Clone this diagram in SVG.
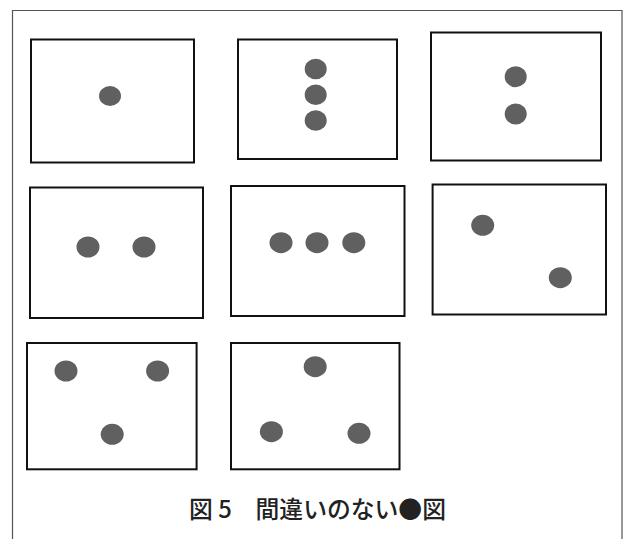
<svg xmlns="http://www.w3.org/2000/svg" width="624" height="539" viewBox="0 0 624 539">
<style>
.box{fill:#fff;stroke:#111;stroke-width:2}
.dot{fill:#606060}
.frame{fill:none;stroke:#555;stroke-width:1.2}
.cap{font-family:"Noto Sans CJK JP","Noto Sans",sans-serif;font-size:23.8px;font-weight:500;fill:#222}
</style>
<rect width="624" height="539" fill="#fff"/>
<path class="frame" d="M12.5,539 V10.5 H622 V539"/>
<g id="panel1"><rect class="box" x="31" y="39.5" width="163" height="123"/>
<ellipse class="dot" cx="110" cy="96" rx="11" ry="10"/></g>
<g id="panel2"><rect class="box" x="238" y="39.5" width="159" height="119.5"/>
<ellipse class="dot" cx="315.7" cy="69" rx="11" ry="10.3"/>
<ellipse class="dot" cx="315.7" cy="94.7" rx="11" ry="10.3"/>
<ellipse class="dot" cx="315.7" cy="120.5" rx="11" ry="10.3"/></g>
<g id="panel3"><rect class="box" x="431" y="32.5" width="170" height="128"/>
<ellipse class="dot" cx="515.7" cy="76.7" rx="11" ry="10.5"/>
<ellipse class="dot" cx="515.7" cy="114" rx="11" ry="10.5"/></g>
<g id="panel4"><rect class="box" x="30" y="187.5" width="173" height="130.5"/>
<ellipse class="dot" cx="88" cy="247" rx="11.5" ry="10.5"/>
<ellipse class="dot" cx="144" cy="247" rx="11.5" ry="10.5"/></g>
<g id="panel5"><rect class="box" x="231" y="186" width="173.5" height="130"/>
<ellipse class="dot" cx="281" cy="242.7" rx="11.5" ry="10.5"/>
<ellipse class="dot" cx="317" cy="242.7" rx="11.5" ry="10.5"/>
<ellipse class="dot" cx="353.8" cy="242.7" rx="11.5" ry="10.5"/></g>
<g id="panel6"><rect class="box" x="432.6" y="184.5" width="173.4" height="130"/>
<ellipse class="dot" cx="482.7" cy="225.3" rx="11.5" ry="10.5"/>
<ellipse class="dot" cx="560.3" cy="277.7" rx="11.5" ry="10.5"/></g>
<g id="panel7"><rect class="box" x="27" y="343" width="169.6" height="126.3"/>
<ellipse class="dot" cx="66" cy="371" rx="11.5" ry="10.5"/>
<ellipse class="dot" cx="157.6" cy="371" rx="11.5" ry="10.5"/>
<ellipse class="dot" cx="112.2" cy="434.3" rx="11.5" ry="10.5"/></g>
<g id="panel8"><rect class="box" x="231" y="343" width="168.5" height="126.3"/>
<ellipse class="dot" cx="315.2" cy="366.7" rx="11.5" ry="10.5"/>
<ellipse class="dot" cx="271.4" cy="431.7" rx="11.5" ry="10.5"/>
<ellipse class="dot" cx="359" cy="433.3" rx="11.5" ry="10.5"/></g>
<text id="caption" class="cap" x="317.5" y="518" text-anchor="middle">図 5　間違いのない●図</text>
</svg>
